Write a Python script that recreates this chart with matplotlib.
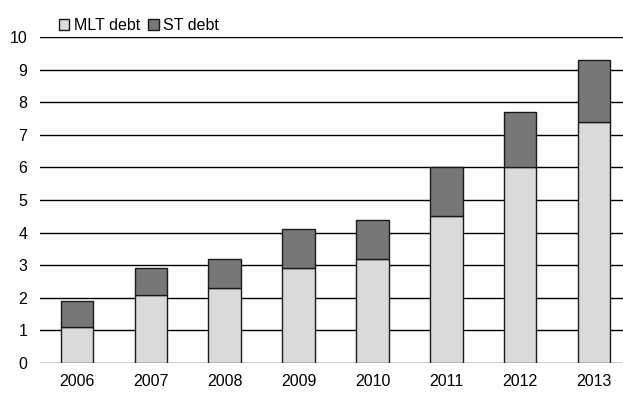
import matplotlib
matplotlib.use("Agg")
import matplotlib.pyplot as plt
import numpy as np

years = ["2006", "2007", "2008", "2009", "2010", "2011", "2012", "2013"]
mlt_debt = [1.1, 2.1, 2.3, 2.9, 3.2, 4.5, 6.0, 7.4]
st_debt = [0.8, 0.8, 0.9, 1.2, 1.2, 1.5, 1.7, 1.9]

plt.rcParams['font.family'] = ['Liberation Sans', 'DejaVu Sans']

fig = plt.figure(figsize=(6.23, 3.94), dpi=100)
ax = fig.add_axes([40/623, 1-363/394, 591/623, (363-37)/394])

x = np.arange(len(years))
w = 0.44
ax.bar(x, mlt_debt, w, color='#dadada', edgecolor='#1a1a1a', linewidth=1.0, label='MLT debt', zorder=3)
ax.bar(x, st_debt, w, bottom=mlt_debt, color='#777777', edgecolor='#1a1a1a', linewidth=1.0, label='ST debt', zorder=3)

ax.set_xlim(-0.5, 7.5)
ax.set_ylim(0, 10)
ax.set_yticks(range(0, 11))
ax.set_xticks(x)
ax.set_xticklabels(years)
ax.yaxis.grid(True, color='black', linewidth=1.0, zorder=0)
ax.set_axisbelow(True)
for s in ax.spines.values():
    s.set_visible(False)
ax.tick_params(axis='both', length=0, labelsize=11.5, colors='black')
ax.tick_params(axis='x', pad=8)
ax.tick_params(axis='y', pad=9)

leg = ax.legend(loc='lower left', bbox_to_anchor=(0.025, 1.0), ncol=2, frameon=False,
                fontsize=11.5, handlelength=0.65, handleheight=0.65, handletextpad=0.3,
                columnspacing=0.5, borderaxespad=0.05, borderpad=0.2)

fig.savefig("out.png", dpi=100)
